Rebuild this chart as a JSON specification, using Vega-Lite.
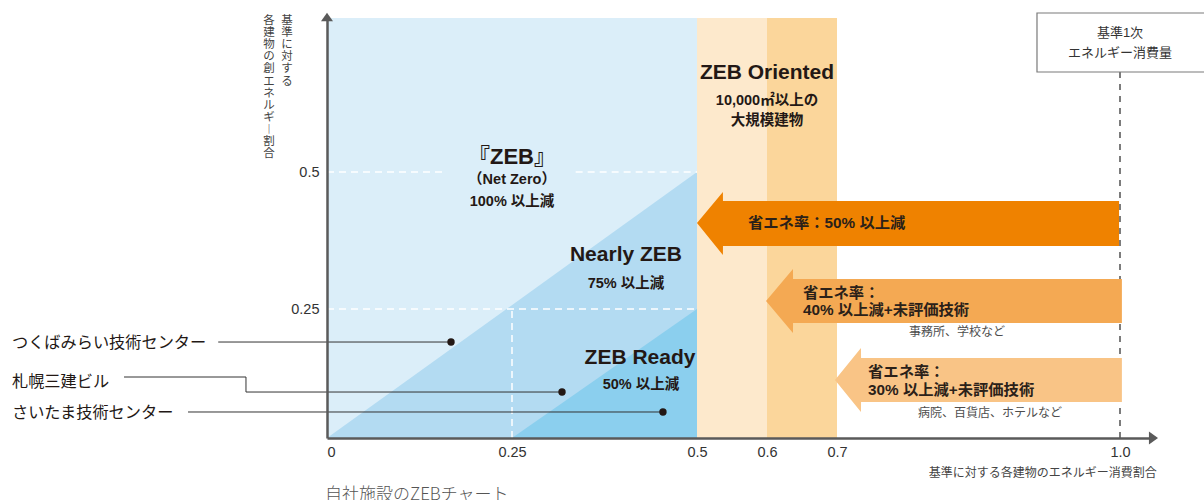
{
  "$schema": "https://vega.github.io/schema/vega-lite/v6.json",
  "width": 877,
  "height": 438,
  "autosize": {"type": "none"},
  "padding": {"left": 327, "top": 0, "right": 0, "bottom": 62},
  "background": "white",
  "config": {"view": {"stroke": null}},
  "datasets": {
    "zebBg": [{"x": 0, "x2": 0.5, "y": 0, "y2": 0.7818}],
    "band1": [{"x": 0.5, "x2": 0.6, "y": 0, "y2": 0.7818}],
    "band2": [{"x": 0.6, "x2": 0.7, "y": 0, "y2": 0.7818}],
    "triNearly": [{"x": 0, "y": 0, "y2": 0}, {"x": 0.5, "y": 0.5, "y2": 0}],
    "triReady": [{"x": 0.25, "y": 0, "y2": 0}, {"x": 0.5, "y": 0.25, "y2": 0}],
    "dashH": [
      {"x": 0, "x2": 0.162, "y": 0.5},
      {"x": 0.336, "x2": 0.5, "y": 0.5},
      {"x": 0, "x2": 0.5, "y": 0.25}
    ],
    "dashV": [{"x": 0.25, "y": 0, "y2": 0.25}],
    "refLine": [{"x": 1.0, "y": 0, "y2": 0.683}],
    "arrows": [
      {"a": "a1", "x": 0.5, "y": 0.407, "y2": 0.407},
      {"a": "a1", "x": 0.537, "y": 0.4635, "y2": 0.3485},
      {"a": "a1", "x": 0.5371, "y": 0.447, "y2": 0.365},
      {"a": "a1", "x": 0.999, "y": 0.447, "y2": 0.365},
      {"a": "a2", "x": 0.5986, "y": 0.2646, "y2": 0.2646},
      {"a": "a2", "x": 0.6371, "y": 0.323, "y2": 0.2035},
      {"a": "a2", "x": 0.6372, "y": 0.3047, "y2": 0.2229},
      {"a": "a2", "x": 1.002, "y": 0.3047, "y2": 0.2229},
      {"a": "a3", "x": 0.6971, "y": 0.1124, "y2": 0.1124},
      {"a": "a3", "x": 0.7254, "y": 0.1744, "y2": 0.0504},
      {"a": "a3", "x": 0.7255, "y": 0.155, "y2": 0.0698},
      {"a": "a3", "x": 1.002, "y": 0.155, "y2": 0.0698}
    ],
    "box": [{"x": 0.912, "x2": 1.1, "y": 0.683, "y2": 0.791}],
    "bigLabels": [
      {"x": 0.6, "y": 0.6812, "t": "ZEB Oriented"},
      {"x": 0.404, "y": 0.3485, "t": "Nearly ZEB"},
      {"x": 0.423, "y": 0.155, "t": "ZEB Ready"}
    ],
    "zebLabel": [
      {"x": 0.25, "y": 0.5275, "t": "『ZEB』"}
    ],
    "subLabels": [
      {"x": 0.6, "y": 0.630, "t": "10,000㎡以上の"},
      {"x": 0.6, "y": 0.5933, "t": "大規模建物"},
      {"x": 0.25, "y": 0.4854, "t": "（Net Zero）"},
      {"x": 0.25, "y": 0.4453, "t": "100% 以上減"},
      {"x": 0.404, "y": 0.2956, "t": "75% 以上減"},
      {"x": 0.4243, "y": 0.1027, "t": "50% 以上減"}
    ],
    "arrowLabels": [
      {"x": 0.5729, "y": 0.407, "t": "省エネ率：50% 以上減"},
      {"x": 0.6514, "y": 0.2792, "t": "省エネ率："},
      {"x": 0.6514, "y": 0.248, "t": "40% 以上減+未評価技術"},
      {"x": 0.7329, "y": 0.1279, "t": "省エネ率："},
      {"x": 0.7329, "y": 0.093, "t": "30% 以上減+未評価技術"}
    ],
    "notes": [
      {"x": 0.8272, "y": 0.2054, "t": "事務所、学校など"},
      {"x": 0.8622, "y": 0.0484, "t": "病院、百貨店、ホテルなど"}
    ],
    "sites": [
      {"x": -0.4257, "y": 0.184, "t": "つくばみらい技術センター"},
      {"x": -0.4257, "y": 0.1085, "t": "札幌三建ビル"},
      {"x": -0.4257, "y": 0.0484, "t": "さいたま技術センター"}
    ],
    "boxText": [
      {"x": 1.0, "y": 0.7544, "t": "基準1次"},
      {"x": 1.0, "y": 0.7178, "t": "エネルギー消費量"}
    ],
    "xTitle": [{"x": 1.039, "y": -0.0678, "t": "基準に対する各建物のエネルギー消費割合"}],
    "caption": [{"x": -0.0027, "y": -0.1095, "t": "自社施設のZEBチャート"}],
    "yTitle": [
      {"x": -0.054, "y": 0.7873, "t": "基\n準\nに\n対\nす\nる"},
      {"x": -0.0784, "y": 0.7873, "t": "各\n建\n物\nの\n創\nエ\nネ\nル\nギ\n︱\n割\n合"}
    ],
    "leaders": [
      {"id": "A", "o": 1, "x": -0.147, "y": 0.186},
      {"id": "A", "o": 2, "x": 0.1676, "y": 0.186},
      {"id": "B", "o": 1, "x": -0.2743, "y": 0.1182},
      {"id": "B", "o": 2, "x": -0.1095, "y": 0.1182},
      {"id": "B", "o": 3, "x": -0.1095, "y": 0.0891},
      {"id": "B", "o": 4, "x": 0.3176, "y": 0.0891},
      {"id": "C", "o": 1, "x": -0.1878, "y": 0.0504},
      {"id": "C", "o": 2, "x": 0.454, "y": 0.0504}
    ],
    "dots": [
      {"x": 0.1676, "y": 0.186},
      {"x": 0.3176, "y": 0.0891},
      {"x": 0.454, "y": 0.0504}
    ],
    "xArrow": [{"x": 1.0355, "y": 0}],
    "yArrow": [{"x": 0, "y": 0.7837}]
  },
  "encoding": {
    "x": {
      "field": "x",
      "type": "quantitative",
      "scale": {"domain": [0, 0.5, 0.7, 1.0, 1.0318], "range": [0, 370, 510, 793, 823], "nice": false, "zero": false, "clamp": false},
      "axis": {
        "values": [0, 0.25, 0.5, 0.6, 0.7, 1],
        "labelExpr": "datum.value == 1 ? '1.0' : '' + datum.value",
        "title": null,
        "ticks": false,
        "grid": false,
        "domainColor": "#5a5a5a",
        "domainWidth": 2.5,
        "labelFont": "Liberation Sans",
        "labelFontSize": 14.5,
        "labelColor": "#333333",
        "labelPadding": 7,
        "labelFlush": false,
        "labelOverlap": false,
        "labelAlign": {"condition": {"test": "datum.value == 0", "value": "left"}, "value": "center"},
        "zindex": 1
      }
    },
    "y": {
      "field": "y",
      "type": "quantitative",
      "scale": {"domain": [0, 0.25, 0.5, 0.78], "range": [438, 309, 172, 19], "nice": false, "zero": false, "clamp": false},
      "axis": {
        "values": [0.25, 0.5],
        "labelExpr": "'' + datum.value",
        "title": null,
        "ticks": false,
        "grid": false,
        "domainColor": "#5a5a5a",
        "domainWidth": 2.5,
        "labelFont": "Liberation Sans",
        "labelFontSize": 14.5,
        "labelColor": "#333333",
        "labelPadding": 8,
        "labelOverlap": false,
        "zindex": 1
      }
    }
  },
  "layer": [
    {"data": {"name": "zebBg"}, "mark": {"type": "rect", "color": "#dbeef9"}, "encoding": {"x2": {"field": "x2"}, "y2": {"field": "y2"}}},
    {"data": {"name": "band1"}, "mark": {"type": "rect", "color": "#fde9cc"}, "encoding": {"x2": {"field": "x2"}, "y2": {"field": "y2"}}},
    {"data": {"name": "band2"}, "mark": {"type": "rect", "color": "#fbd69b"}, "encoding": {"x2": {"field": "x2"}, "y2": {"field": "y2"}}},
    {"data": {"name": "triNearly"}, "mark": {"type": "area", "color": "#b3dbf2"}, "encoding": {"y2": {"field": "y2"}}},
    {"data": {"name": "triReady"}, "mark": {"type": "area", "color": "#8bcfee"}, "encoding": {"y2": {"field": "y2"}}},
    {"data": {"name": "dashH"}, "mark": {"type": "rule", "color": "white", "strokeWidth": 1.5, "strokeDash": [7, 5]}, "encoding": {"x2": {"field": "x2"}}},
    {"data": {"name": "dashV"}, "mark": {"type": "rule", "color": "white", "strokeWidth": 1.5, "strokeDash": [7, 5]}, "encoding": {"y2": {"field": "y2"}}},
    {"data": {"name": "refLine"}, "mark": {"type": "rule", "color": "#6e6e6e", "strokeWidth": 1.8, "strokeDash": [6, 6]}, "encoding": {"y2": {"field": "y2"}}},
    {
      "data": {"name": "arrows"},
      "mark": {"type": "area", "opacity": 1},
      "encoding": {
        "y2": {"field": "y2"},
        "color": {"field": "a", "type": "nominal", "scale": {"domain": ["a1", "a2", "a3"], "range": ["#ef8200", "#f4a953", "#f9c486"]}, "legend": null}
      }
    },
    {"data": {"name": "box"}, "mark": {"type": "rect", "fill": "white", "stroke": "#7a7a7a", "strokeWidth": 1.2}, "encoding": {"x2": {"field": "x2"}, "y2": {"field": "y2"}}},
    {"data": {"name": "bigLabels"}, "mark": {"type": "text", "font": "'Liberation Sans', 'Noto Sans CJK JP'", "fontSize": 21, "fontWeight": "bold", "color": "#231815", "align": "center", "baseline": "middle"}, "encoding": {"text": {"field": "t"}}},
    {"data": {"name": "zebLabel"}, "mark": {"type": "text", "font": "'Liberation Sans', 'Noto Sans CJK JP'", "fontSize": 22, "fontWeight": "bold", "color": "#231815", "align": "center", "baseline": "middle"}, "encoding": {"text": {"field": "t"}}},
    {"data": {"name": "subLabels"}, "mark": {"type": "text", "font": "'Liberation Sans', 'Noto Sans CJK JP'", "fontSize": 14.5, "fontWeight": "bold", "color": "#231815", "align": "center", "baseline": "middle"}, "encoding": {"text": {"field": "t"}}},
    {"data": {"name": "arrowLabels"}, "mark": {"type": "text", "font": "'Liberation Sans', 'Noto Sans CJK JP'", "fontSize": 15.3, "fontWeight": "bold", "color": "#2b2119", "align": "left", "baseline": "middle"}, "encoding": {"text": {"field": "t"}}},
    {"data": {"name": "notes"}, "mark": {"type": "text", "font": "'Noto Sans CJK JP'", "fontSize": 12, "color": "#4d4d4d", "align": "center", "baseline": "middle"}, "encoding": {"text": {"field": "t"}}},
    {"data": {"name": "sites"}, "mark": {"type": "text", "font": "'Noto Sans CJK JP'", "fontSize": 16.2, "color": "#231815", "align": "left", "baseline": "middle"}, "encoding": {"text": {"field": "t"}}},
    {"data": {"name": "boxText"}, "mark": {"type": "text", "font": "'Liberation Sans', 'Noto Sans CJK JP'", "fontSize": 13, "color": "#333333", "align": "center", "baseline": "middle"}, "encoding": {"text": {"field": "t"}}},
    {"data": {"name": "xTitle"}, "mark": {"type": "text", "font": "'Noto Sans CJK JP'", "fontSize": 12, "color": "#444444", "align": "right", "baseline": "middle"}, "encoding": {"text": {"field": "t"}}},
    {"data": {"name": "caption"}, "mark": {"type": "text", "font": "'Noto Sans CJK JP'", "fontSize": 17, "fontWeight": 300, "color": "#555555", "align": "left", "baseline": "middle"}, "encoding": {"text": {"field": "t"}}},
    {"data": {"name": "yTitle"}, "mark": {"type": "text", "font": "'Noto Sans CJK JP'", "fontSize": 11.5, "lineHeight": 12.1, "lineBreak": "\n", "color": "#444444", "align": "center", "baseline": "top"}, "encoding": {"text": {"field": "t"}}},
    {"data": {"name": "leaders"}, "mark": {"type": "line", "color": "#333333", "strokeWidth": 1}, "encoding": {"detail": {"field": "id"}, "order": {"field": "o", "type": "quantitative"}}},
    {"data": {"name": "dots"}, "mark": {"type": "point", "filled": true, "opacity": 1, "color": "#231815", "size": 55}},
    {"data": {"name": "xArrow"}, "mark": {"type": "point", "filled": true, "opacity": 1, "color": "#5a5a5a", "size": 169, "shape": "M-0.7,-1L0.7,0L-0.7,1Z"}},
    {"data": {"name": "yArrow"}, "mark": {"type": "point", "filled": true, "opacity": 1, "color": "#5a5a5a", "size": 144, "shape": "M-1,0.7L0,-0.7L1,0.7Z"}}
  ]
}
